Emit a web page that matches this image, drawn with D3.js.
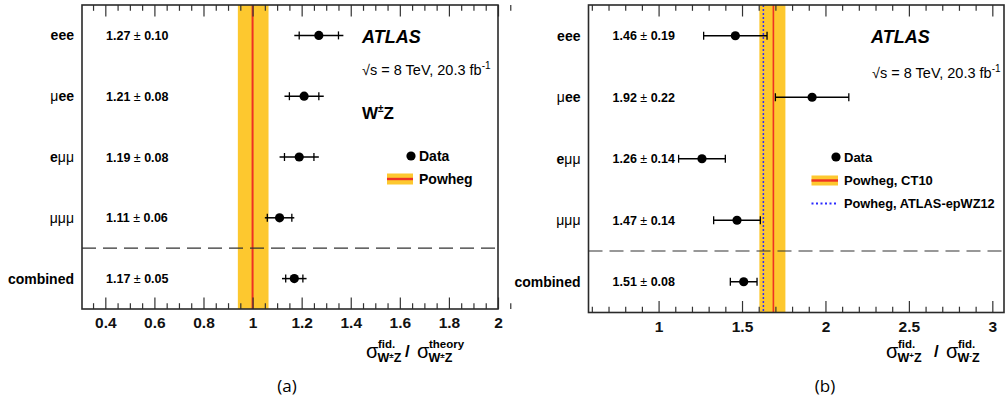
<!DOCTYPE html>
<html>
<head>
<meta charset="utf-8">
<script src="https://cdn.jsdelivr.net/npm/d3@7"></script>
<style>
  body { margin: 0; background: #fff; }
  svg { display: block; font-family: "Liberation Sans", Arial, Helvetica, sans-serif; }
  .bold { font-weight: bold; }
</style>
</head>
<body>
<svg id="chart" width="1006" height="403"></svg>
<script>
// channels (rows, top to bottom)
var categories = ["eee", "μee", "eμμ", "μμμ", "combined"];

// (a) W±Z fiducial cross section / theory
var ratioA = [1.27, 1.21, 1.19, 1.11, 1.17];
var totErrA = [0.10, 0.08, 0.08, 0.06, 0.05];
var statErrA = [0.08, 0.06, 0.06, 0.05, 0.035];
var powhegA = [0.94, 1.0, 1.065];          // low, central, high
var ticksMajorA = [0.4, 0.6, 0.8, 1, 1.2, 1.4, 1.6, 1.8, 2];

// (b) W+Z / W-Z ratio
var ratioB = [1.46, 1.92, 1.26, 1.47, 1.51];
var totErrB = [0.19, 0.22, 0.14, 0.14, 0.08];
var powhegB = [1.604, 1.688, 1.76];        // CT10 band
var epWZB = 1.628;                         // ATLAS-epWZ12
var ticksMajorB = [1, 1.5, 2, 2.5, 3];

var svg = d3.select("#chart");
var yellow = "#fdc82f", red = "#ee3224", blue = "#2a2aff";

function labelRows(g, x, y, vals, errs) {
    // channel names: mu drawn lighter, e bold like the ROOT Symbol font
    g.selectAll("text.cat").data(categories).enter()
        .append("text").attr("class", "cat")
        .attr("x", x.range()[0] - 8)
        .attr("y", function(d, i) { return y(i) + 5; })
        .attr("text-anchor", "end")
        .style("font-size", "14px")
        .each(function(d) {
            var t = d3.select(this);
            if (d === "combined") { t.append("tspan").attr("font-weight", "bold").text(d); return; }
            d.split("").forEach(function(c) {
                t.append("tspan").attr("font-weight", c === "μ" ? "normal" : "bold").text(c);
            });
        });

    g.selectAll("text.val").data(vals).enter()
        .append("text").attr("class", "val")
        .attr("x", x.range()[0] + 24)
        .attr("y", function(d, i) { return y(i) + 4.5; })
        .style("font-size", "12.5px")
        .each(function(d, i) {
            var t = d3.select(this);
            t.append("tspan").attr("font-weight", "bold").text(d.toFixed(2) + " ");
            t.append("tspan").text("± ");
            t.append("tspan").attr("font-weight", "bold").text(errs[i].toFixed(2));
        });
}

function drawFrame(g, x, y, minor, maj) {
    var top = y.range()[0], bot = y.range()[1];
    var ticksize = function(v) { return maj.indexOf(v) >= 0 ? 11.5 : 5.8; };

    // bottom ticks (inward) + labels
    var ax = g.append("g").attr("transform", "translate(0," + bot + ")")
        .call(d3.axisBottom(x).tickValues(minor).tickSizeInner(0).tickSizeOuter(0).tickPadding(8)
            .tickFormat(function(v) { return maj.indexOf(v) >= 0 ? d3.format("")(v) : ""; }));
    ax.select(".domain").remove();
    ax.selectAll(".tick line").attr("y2", function(v) { return -ticksize(v); })
        .attr("stroke", "#333").attr("stroke-width", 1.2);
    ax.selectAll(".tick text").attr("fill", "#111")
        .style("font-size", "15.5px").style("font-weight", "bold").style("font-family", "Liberation Sans, Arial, sans-serif");

    // top ticks (inward)
    var axt = g.append("g").attr("transform", "translate(0," + top + ")")
        .call(d3.axisTop(x).tickValues(minor).tickSizeOuter(0).tickFormat(""));
    axt.select(".domain").remove();
    axt.selectAll(".tick line").attr("y2", function(v) { return ticksize(v); })
        .attr("stroke", "#333").attr("stroke-width", 1.2);

    g.append("rect")
        .attr("x", x.range()[0]).attr("y", top)
        .attr("width", x.range()[1] - x.range()[0]).attr("height", bot - top)
        .attr("fill", "none").attr("stroke", "#2a2a2a").attr("stroke-width", 1.6);
}

function separator(g, x, y) {
    g.append("line")
        .attr("x1", x.range()[0]).attr("x2", x.range()[1])
        .attr("y1", y(3.5)).attr("y2", y(3.5))
        .attr("stroke", "#333").attr("stroke-width", 1.2)
        .attr("stroke-dasharray", "14,7");
}

function band(g, x, y, p, lw) {
    g.append("rect")
        .attr("x", x(p[0])).attr("width", x(p[2]) - x(p[0]))
        .attr("y", y.range()[0]).attr("height", y.range()[1] - y.range()[0])
        .attr("fill", yellow);
    g.append("line")
        .attr("x1", x(p[1])).attr("x2", x(p[1]))
        .attr("y1", y.range()[0]).attr("y2", y.range()[1])
        .attr("stroke", red).attr("stroke-width", lw);
}

// sigma with stacked super/subscript
function sigma(g, x, sup, sub) {
    g.append("text").attr("x", x).attr("y", 358).style("font-size", "20px").text("σ");
    g.append("text").attr("x", x + 12).attr("y", 348).attr("class", "bold").style("font-size", "11.5px").text(sup);
    var t = g.append("text").attr("x", x + 11.5).attr("y", 362).attr("class", "bold").style("font-size", "12.5px");
    t.append("tspan").text("W");
    t.append("tspan").attr("dy", -4).style("font-size", "8px").text(sub);
    t.append("tspan").attr("dy", 4).text("Z");
}

// ---------- panel (a) ----------
var xA = d3.scaleLinear().domain([0.305, 2]).range([82, 498]);
var yA = d3.scaleLinear().domain([-0.5, 4.5]).range([5, 309]);
var gA = svg.append("g");
var minorA = d3.range(0, 35).map(function(i) { return +(0.35 + i * 0.05).toFixed(2); });

band(gA, xA, yA, powhegA, 2);
separator(gA, xA, yA);
drawFrame(gA, xA, yA, minorA, ticksMajorA);

var ptsA = gA.selectAll("g.pt").data(ratioA).enter().append("g").attr("class", "pt");
ptsA.append("line")
    .attr("x1", function(d, i) { return xA(d - totErrA[i]); })
    .attr("x2", function(d, i) { return xA(d + totErrA[i]); })
    .attr("y1", function(d, i) { return yA(i); }).attr("y2", function(d, i) { return yA(i); })
    .attr("stroke", "#000").attr("stroke-width", 1.5);
[-1, 1].forEach(function(s) {
    ptsA.append("line")
        .attr("x1", function(d, i) { return xA(d + s * statErrA[i]); })
        .attr("x2", function(d, i) { return xA(d + s * statErrA[i]); })
        .attr("y1", function(d, i) { return yA(i) - 4; }).attr("y2", function(d, i) { return yA(i) + 4; })
        .attr("stroke", "#000").attr("stroke-width", 1.3);
});
ptsA.append("circle")
    .attr("cx", function(d) { return xA(d); })
    .attr("cy", function(d, i) { return yA(i); })
    .attr("r", 4.6).attr("fill", "#000");

labelRows(gA, xA, yA, ratioA, totErrA);

gA.append("text").attr("x", 362).attr("y", 43)
    .style("font-size", "18px").style("font-weight", "bold").style("font-style", "italic").text("ATLAS");
var rs = gA.append("text").attr("x", 362).attr("y", 75).style("font-size", "14.5px");
rs.append("tspan").text("√s = 8 TeV, 20.3 fb");
rs.append("tspan").attr("dy", -6).style("font-size", "10px").text("-1");
var wz = gA.append("text").attr("x", 362).attr("y", 119).style("font-size", "17px").style("font-weight", "bold");
wz.append("tspan").text("W");
wz.append("tspan").attr("dy", -7).style("font-size", "10px").text("±");
wz.append("tspan").attr("dy", 7).text("Z");

// legend (a)
gA.append("circle").attr("cx", 411).attr("cy", 156).attr("r", 4.6).attr("fill", "#000");
gA.append("text").attr("x", 419).attr("y", 161).attr("class", "bold").style("font-size", "14px").text("Data");
gA.append("rect").attr("x", 387).attr("y", 173.5).attr("width", 26).attr("height", 11).attr("fill", yellow);
gA.append("line").attr("x1", 387).attr("x2", 413).attr("y1", 179).attr("y2", 179).attr("stroke", red).attr("stroke-width", 2.4);
gA.append("text").attr("x", 419).attr("y", 184).attr("class", "bold").style("font-size", "14px").text("Powheg");

// axis title (a)
sigma(gA, 366, "fid.", "±");
gA.append("text").attr("x", 405).attr("y", 357).attr("class", "bold").style("font-size", "17px").text("/");
sigma(gA, 417, "theory", "±");

gA.append("text").attr("x", 287).attr("y", 392).attr("text-anchor", "middle")
    .style("font-family", "Open Sans, DejaVu Sans, sans-serif").style("font-size", "17px").text("(a)");

// ---------- panel (b) ----------
var xB = d3.scaleLinear().domain([0.58, 3.07]).range([588.5, 1004]);
var yB = d3.scaleLinear().domain([-0.5, 4.5]).range([5, 312.5]);
var gB = svg.append("g");
var minorB = d3.range(0, 25).map(function(i) { return +(0.6 + i * 0.1).toFixed(1); });

band(gB, xB, yB, powhegB, 1.6);
gB.append("line")
    .attr("x1", xB(epWZB)).attr("x2", xB(epWZB))
    .attr("y1", yB.range()[0]).attr("y2", yB.range()[1])
    .attr("stroke", blue).attr("stroke-width", 1.5).attr("stroke-dasharray", "2,2");
separator(gB, xB, yB);
drawFrame(gB, xB, yB, minorB, ticksMajorB);

var ptsB = gB.selectAll("g.pt").data(ratioB).enter().append("g").attr("class", "pt");
ptsB.append("line")
    .attr("x1", function(d, i) { return xB(d - totErrB[i]); })
    .attr("x2", function(d, i) { return xB(d + totErrB[i]); })
    .attr("y1", function(d, i) { return yB(i); }).attr("y2", function(d, i) { return yB(i); })
    .attr("stroke", "#000").attr("stroke-width", 1.5);
[-1, 1].forEach(function(s) {
    ptsB.append("line")
        .attr("x1", function(d, i) { return xB(d + s * totErrB[i]); })
        .attr("x2", function(d, i) { return xB(d + s * totErrB[i]); })
        .attr("y1", function(d, i) { return yB(i) - 4; }).attr("y2", function(d, i) { return yB(i) + 4; })
        .attr("stroke", "#000").attr("stroke-width", 1.3);
});
ptsB.append("circle")
    .attr("cx", function(d) { return xB(d); })
    .attr("cy", function(d, i) { return yB(i); })
    .attr("r", 4.6).attr("fill", "#000");

labelRows(gB, xB, yB, ratioB, totErrB);

gB.append("text").attr("x", 871).attr("y", 43)
    .style("font-size", "18px").style("font-weight", "bold").style("font-style", "italic").text("ATLAS");
var rsb = gB.append("text").attr("x", 872).attr("y", 78).style("font-size", "14.5px");
rsb.append("tspan").text("√s = 8 TeV, 20.3 fb");
rsb.append("tspan").attr("dy", -6).style("font-size", "10px").text("-1");

// legend (b)
gB.append("circle").attr("cx", 836).attr("cy", 157).attr("r", 4.6).attr("fill", "#000");
gB.append("text").attr("x", 844).attr("y", 162).attr("class", "bold").style("font-size", "13px").text("Data");
gB.append("rect").attr("x", 811.5).attr("y", 175.5).attr("width", 26.5).attr("height", 10).attr("fill", yellow);
gB.append("line").attr("x1", 811.5).attr("x2", 838).attr("y1", 180.5).attr("y2", 180.5).attr("stroke", red).attr("stroke-width", 2.4);
gB.append("text").attr("x", 844).attr("y", 185).attr("class", "bold").style("font-size", "13px").text("Powheg, CT10");
gB.append("line").attr("x1", 811.5).attr("x2", 838).attr("y1", 203.5).attr("y2", 203.5)
    .attr("stroke", blue).attr("stroke-width", 2).attr("stroke-dasharray", "2,2.5");
gB.append("text").attr("x", 844).attr("y", 208).attr("class", "bold").style("font-size", "12.8px").text("Powheg, ATLAS-epWZ12");

// axis title (b)
sigma(gB, 886, "fid.", "+");
gB.append("text").attr("x", 934).attr("y", 357).attr("class", "bold").style("font-size", "17px").text("/");
sigma(gB, 946, "fid.", "-");

gB.append("text").attr("x", 825).attr("y", 392).attr("text-anchor", "middle")
    .style("font-family", "Open Sans, DejaVu Sans, sans-serif").style("font-size", "17px").text("(b)");
</script>
</body>
</html>
